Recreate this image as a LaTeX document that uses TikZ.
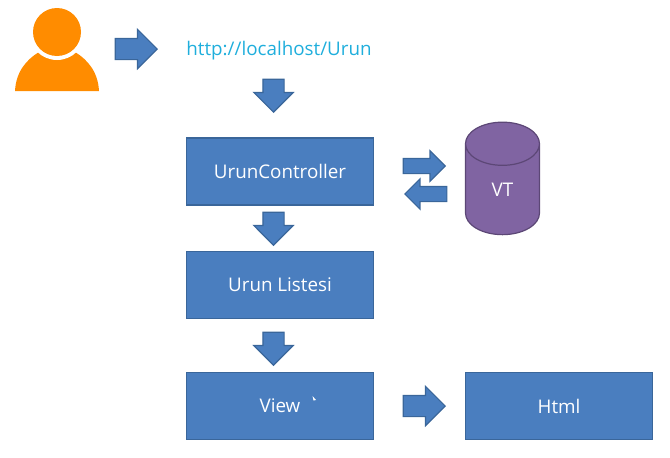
\documentclass[tikz,border=0pt]{standalone}
\usepackage{fontspec}
\setmainfont{Open Sans}
\usetikzlibrary{shapes.arrows,shapes.geometric}
\definecolor{boxblue}{HTML}{4A7EBF}
\definecolor{boxedge}{HTML}{3A669A}
\definecolor{dbpurple}{HTML}{8064A2}
\definecolor{dbedge}{HTML}{5C4776}
\definecolor{personorange}{HTML}{FF8C00}
\definecolor{linkblue}{HTML}{1FAEDC}
\tikzset{
  block/.style={draw=boxedge, line width=1.2pt, fill=boxblue, text=white, minimum width=187pt, minimum height=67pt, inner sep=0pt, font=\fontsize{18.8}{22}\selectfont},
  bigarrow/.style={single arrow, anchor=tip, draw=boxedge, line width=1.2pt, fill=boxblue, minimum height=42pt, inner xsep=0pt, inner ysep=10pt, single arrow head extend=9pt},
  downarrow/.style={bigarrow, rotate=-90, minimum height=33pt},
  smallarrow/.style={bigarrow, inner ysep=7pt, single arrow head extend=7.5pt}
}
\begin{document}
\begin{tikzpicture}[x=1pt, y=-1pt]

\useasboundingbox (0,0) rectangle (670,458);

% kullanici
\fill[personorange] (15,91) .. controls (16,72) and (26,60) .. (39,52) -- (75,52) .. controls (88,60) and (98,72) .. (99,91) -- cycle;
\fill[white] (57,32) circle (28);
\fill[personorange] (57,32) circle (24);

% adres
\node[text=linkblue, font=\fontsize{18.8}{22}\selectfont] (url) at (279,50.5) {http://localhost/Urun};

% kutular
\node[block] (ctrl) at (280,171.5) {UrunController};
\node[block] (liste) at (280,285) {Urun Listesi};
\node[block] (view) at (280,406) {View};
\node[block] (html) at (559,406) {Html};

% veritabani
\node[cylinder, shape border rotate=90, aspect=2, draw=dbedge, line width=1.2pt, fill=dbpurple, text=white, minimum width=74pt, minimum height=112.5pt, inner sep=0pt, font=\fontsize{18.8}{22}\selectfont] (vt) at (502.5,189.5) {VT};

% oklar
\node[bigarrow] (a1) at (158,49) {};
\node[downarrow] (a2) at (273.5,113) {};
\node[smallarrow] (a3) at (446,166) {};
\node[smallarrow, rotate=180] (a4) at (404,194) {};
\node[downarrow] (a5) at (273.5,246) {};
\node[downarrow] (a6) at (273.5,366) {};
\node[bigarrow] (a7) at (446,406) {};

% fare imleci
\fill[white] (312.5,396) -- (316,400) -- (313.5,400.5) -- cycle;

\end{tikzpicture}
\end{document}
